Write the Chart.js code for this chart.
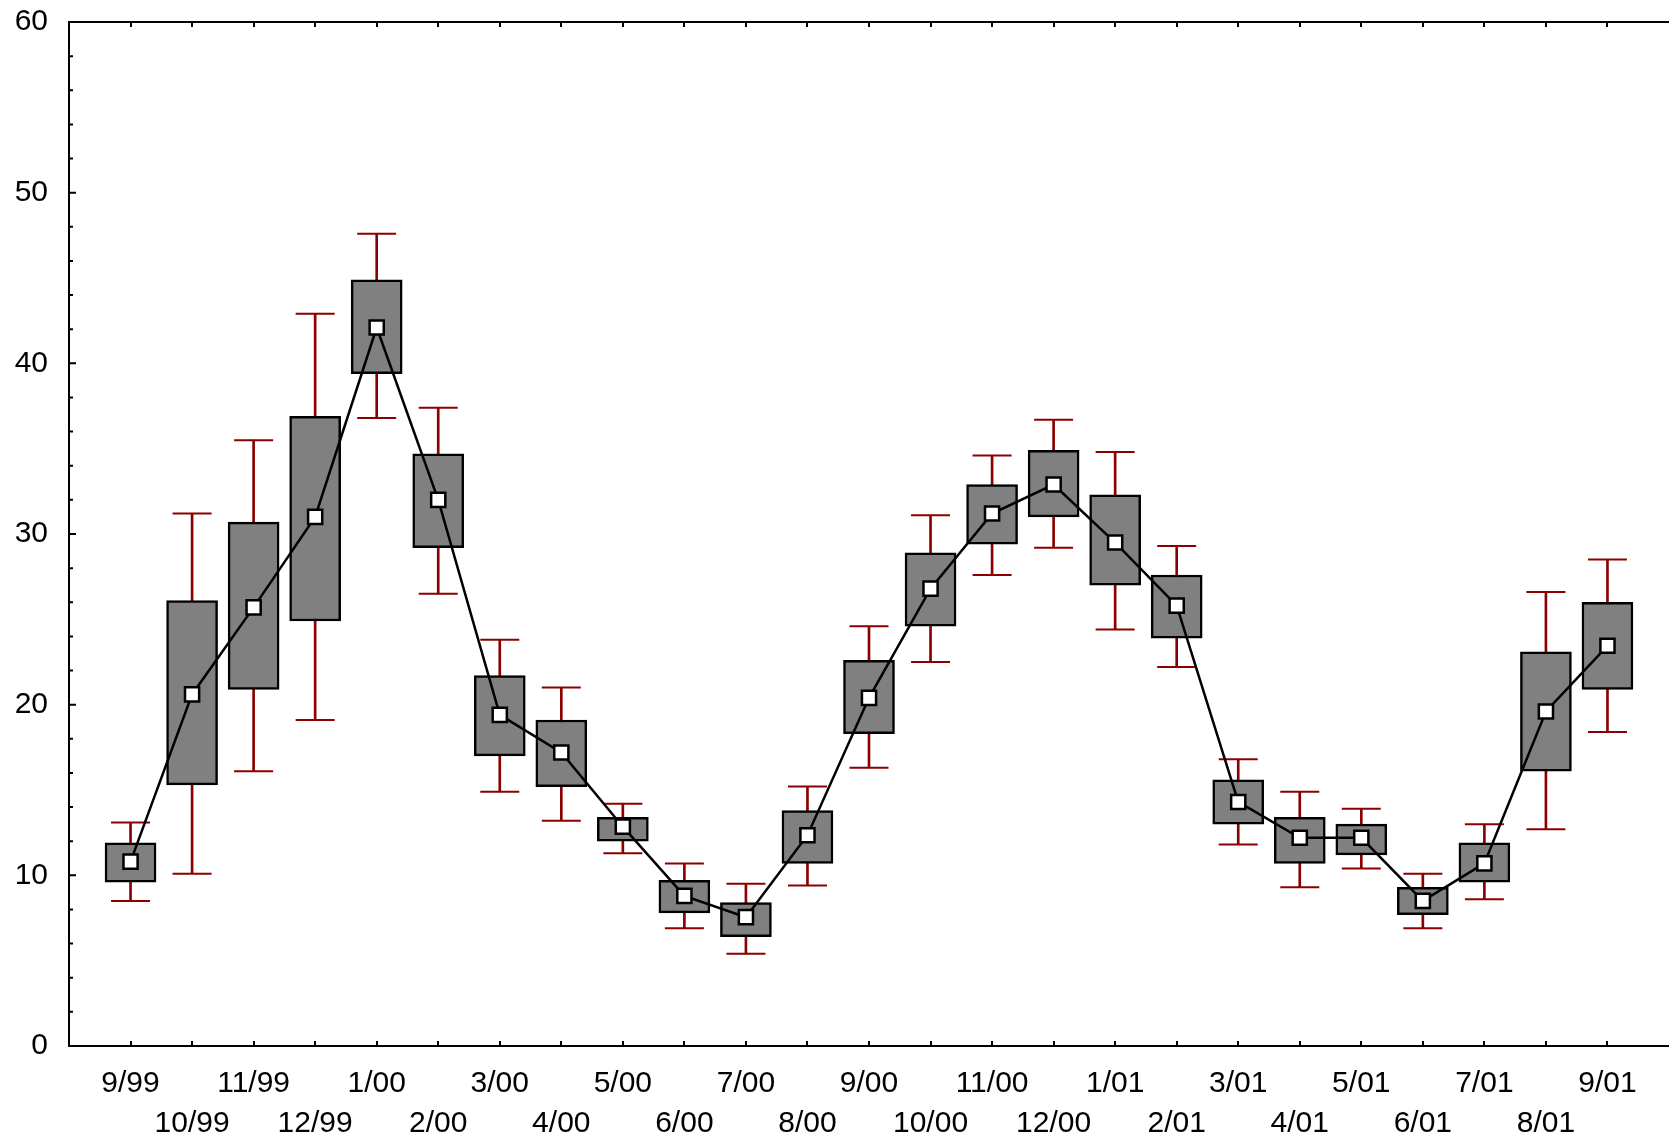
<!DOCTYPE html>
<html>
<head>
<meta charset="utf-8">
<script src="https://cdn.jsdelivr.net/npm/chart.js@4/dist/chart.umd.min.js"></script>
<style>
  body { margin: 0; background: #fff; }
  canvas { display: block; }
</style>
</head>
<body>
<canvas id="chart" width="1669" height="1140"></canvas>
<script>
// months on the x axis
var categories = ["9/99", "10/99", "11/99", "12/99", "1/00", "2/00", "3/00", "4/00", "5/00",
  "6/00", "7/00", "8/00", "9/00", "10/00", "11/00", "12/00", "1/01", "2/01", "3/01",
  "4/01", "5/01", "6/01", "7/01", "8/01", "9/01"];

// mean (white squares)
var means = [10.8, 20.6, 25.7, 31.0, 42.1, 32.0, 19.4, 17.2, 12.85, 8.8, 7.55, 12.35, 20.4,
  26.8, 31.2, 32.9, 29.5, 25.8, 14.3, 12.2, 12.2, 8.5, 10.7, 19.6, 23.45];

// grey boxes
var boxLow = [9.6, 15.3, 20.9, 24.9, 39.4, 29.2, 17.0, 15.2, 12.0, 7.8, 6.4, 10.7, 18.3,
  24.6, 29.4, 31.0, 27.0, 23.9, 13.0, 10.7, 11.2, 7.7, 9.6, 16.1, 20.9];
var boxHigh = [11.9, 26.1, 30.7, 36.9, 44.9, 34.7, 21.7, 19.1, 13.4, 9.7, 8.4, 13.8, 22.6,
  28.9, 32.9, 34.9, 32.3, 27.6, 15.6, 13.4, 13.0, 9.3, 11.9, 23.1, 26.0];

// red whiskers
var whiskerLow = [8.5, 10.1, 16.1, 19.1, 36.8, 26.5, 14.9, 13.2, 11.3, 6.9, 5.4, 9.4, 16.3,
  22.5, 27.6, 29.2, 24.4, 22.2, 11.8, 9.3, 10.4, 6.9, 8.6, 12.7, 18.4];
var whiskerHigh = [13.1, 31.2, 35.5, 42.9, 47.6, 37.4, 23.8, 21.0, 14.2, 10.7, 9.5, 15.2, 24.6,
  31.1, 34.6, 36.7, 34.8, 29.3, 16.8, 14.9, 13.9, 10.1, 13.0, 26.6, 28.5];

var yTicks = [0, 10, 20, 30, 40, 50, 60];

var red = "#8b0000";

function pts(arr) {
  return arr.map(function (v, i) { return { x: i, y: v }; });
}
function ranges(lo, hi) {
  return lo.map(function (v, i) { return { x: i, y: [v, hi[i]] }; });
}

// inward ticks and the top frame line
var frame = {
  id: "frame",
  afterDraw: function (chart) {
    var ctx = chart.ctx, a = chart.chartArea;
    var xs = chart.scales.x, ys = chart.scales.y;
    ctx.save();
    ctx.strokeStyle = "#000";
    ctx.lineWidth = 2;
    ctx.beginPath();
    ctx.moveTo(a.left - 1, a.top);
    ctx.lineTo(a.right, a.top);
    ys.ticks.forEach(function (t) {
      var y = ys.getPixelForValue(t.value);
      var len = yTicks.indexOf(t.value) >= 0 ? 7 : 4;
      ctx.moveTo(a.left, y);
      ctx.lineTo(a.left + len, y);
    });
    categories.forEach(function (c, i) {
      var x = Math.round(xs.getPixelForValue(i));
      ctx.moveTo(x, a.bottom);
      ctx.lineTo(x, a.bottom - 5);
      ctx.moveTo(x, a.top);
      ctx.lineTo(x, a.top + 5);
    });
    ctx.stroke();
    ctx.restore();
  }
};

Chart.defaults.font.family = "'Liberation Sans', Arial, sans-serif";
Chart.defaults.font.size = 30;
Chart.defaults.color = "#000";

new Chart(document.getElementById("chart"), {
  type: "bar",
  data: {
    datasets: [
      {
        type: "line",
        data: pts(means),
        borderColor: "#000",
        borderWidth: 2.5,
        tension: 0,
        pointStyle: "rect",
        pointRadius: 10,
        pointBackgroundColor: "#fff",
        pointBorderColor: "#000",
        pointBorderWidth: 2.5,
        order: 0
      },
      {
        type: "bar",
        data: ranges(boxLow, boxHigh),
        backgroundColor: "#808080",
        borderColor: "#000",
        borderWidth: 2.5,
        borderSkipped: false,
        barThickness: 51,
        grouped: false,
        order: 1
      },
      {
        type: "bar",
        data: ranges(whiskerLow, whiskerHigh),
        backgroundColor: red,
        borderWidth: 0,
        barThickness: 2,
        grouped: false,
        order: 2
      },
      {
        type: "scatter",
        data: pts(whiskerLow).concat(pts(whiskerHigh)),
        pointStyle: "line",
        pointRadius: 19.5,
        borderColor: red,
        pointBorderColor: red,
        borderWidth: 2,
        pointBorderWidth: 2,
        order: 3
      }
    ]
  },
  options: {
    responsive: false,
    animation: false,
    layout: { autoPadding: false, padding: { top: 22, right: 0, left: 0, bottom: 0 } },
    plugins: { legend: { display: false }, tooltip: { enabled: false } },
    scales: {
      x: {
        type: "linear",
        offset: false,
        min: -1,
        max: 25,
        grid: { display: false, drawTicks: false },
        border: { display: true, color: "#000", width: 2 },
        ticks: {
          stepSize: 1,
          autoSkip: false,
          maxRotation: 0,
          padding: 17,
          font: { lineHeight: 1.35 },
          callback: function (v) {
            var c = categories[v];
            if (c === undefined) return "";
            return v % 2 === 0 ? [c, ""] : ["", c];
          }
        },
        afterFit: function (s) { s.height = 94; s.paddingLeft = 0; s.paddingRight = 0; }
      },
      y: {
        min: 0,
        max: 60,
        grid: { display: false, drawTicks: false },
        border: { display: true, color: "#000", width: 2 },
        ticks: {
          stepSize: 2,
          autoSkip: false,
          padding: 21,
          callback: function (v) { return yTicks.indexOf(v) >= 0 ? v : ""; }
        },
        afterFit: function (s) { s.width = 69; s.paddingTop = 0; s.paddingBottom = 0; }
      }
    }
  },
  plugins: [frame]
});
</script>
</body>
</html>
